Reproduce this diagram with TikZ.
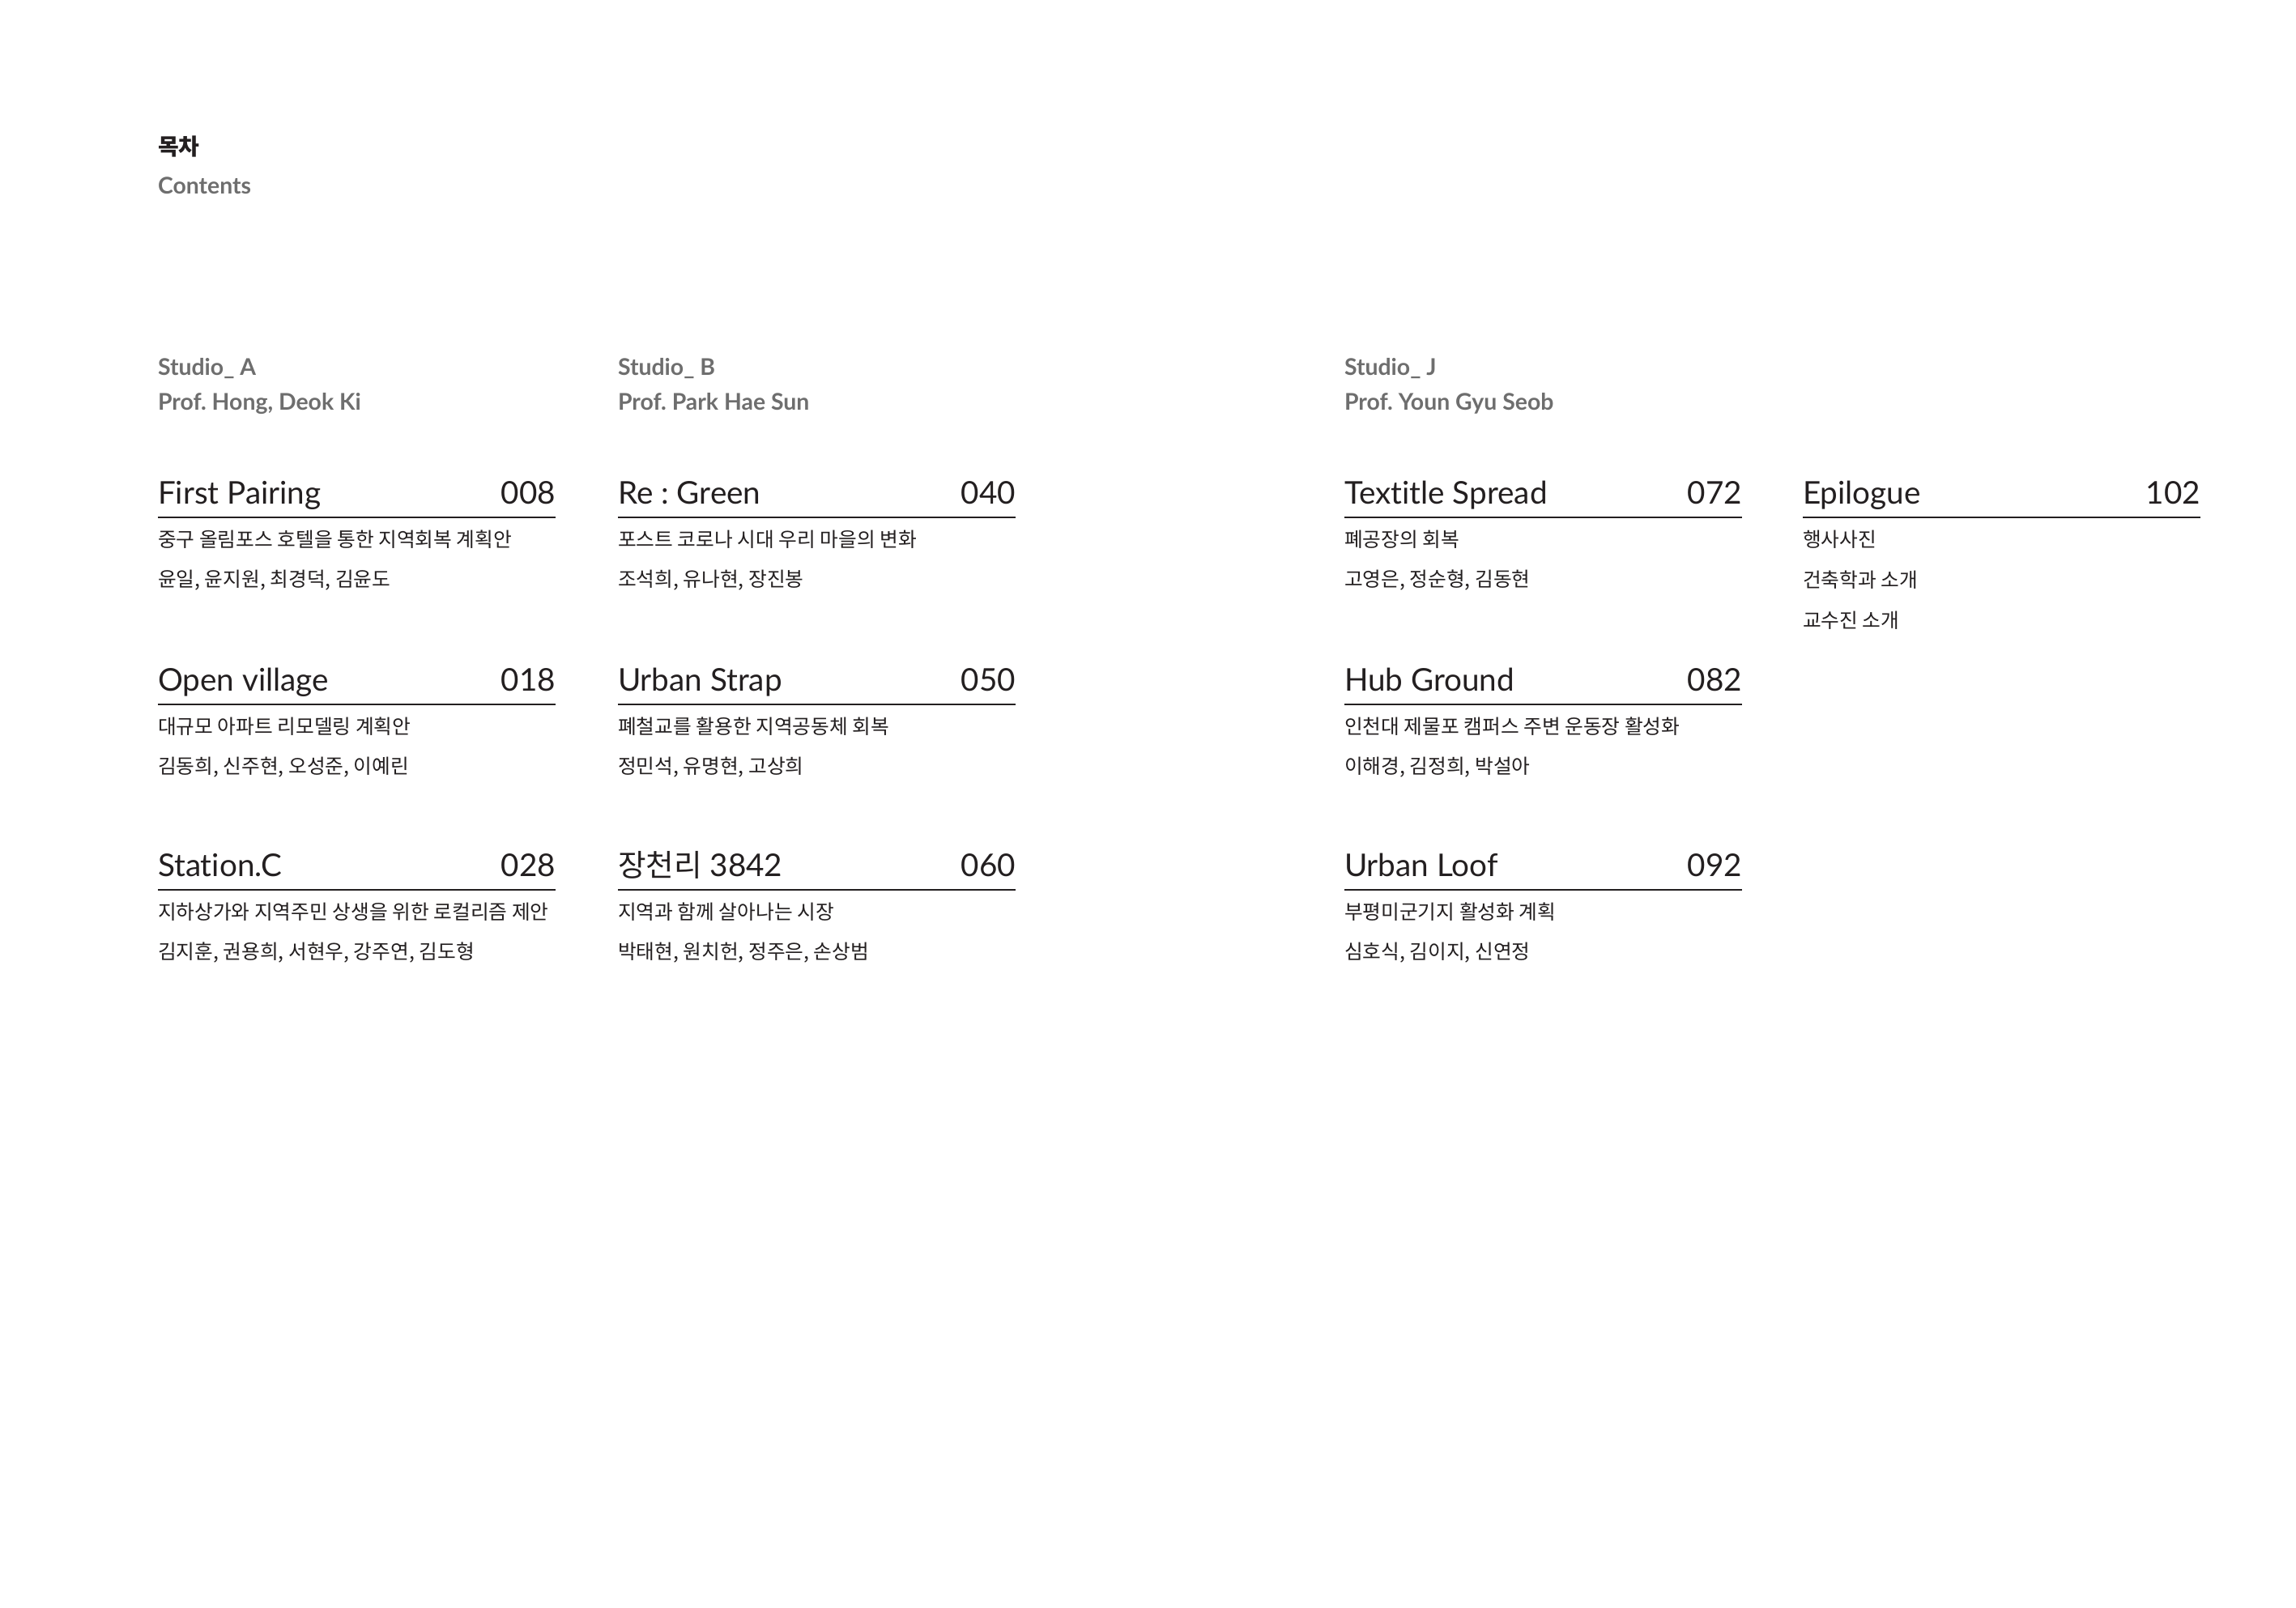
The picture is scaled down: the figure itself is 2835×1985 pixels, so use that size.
\documentclass[tikz,border=0pt]{standalone}
\usepackage{fontspec}
\setmainfont{Lato}[Ligatures=NoCommon]
\newfontfamily\kr{Noto Sans CJK KR}
\definecolor{ink}{RGB}{35,31,32}
\definecolor{labelgray}{RGB}{110,110,110}
\frenchspacing
\tikzset{
  base/.style={inner sep=0pt, outer sep=0pt},
  titletext/.style={base, anchor=base west, text=ink, font=\fontsize{9.66}{11}\selectfont},
  pagenum/.style={base, anchor=base east, text=ink, font=\fontsize{9.66}{11}\selectfont},
  subline/.style={base, anchor=base west, text=ink, font=\kr\fontsize{6.18}{7}\selectfont},
  grlabel/.style={base, anchor=base west, text=labelgray, font=\bfseries\fontsize{7.1}{8}\selectfont},
  rulel/.style={draw=ink, line width=0.5pt},
}
\newcommand{\tocentry}[7]{%
  \node[titletext] (#1-t) at (#2,#3) {#4};
  \node[pagenum] (#1-p) at (#2+491,#3) {#5};
  \coordinate (#1-ra) at (#2,#3+16.5);
  \coordinate (#1-rb) at (#2+491,#3+16.5);
  \draw[rulel] (#1-ra) -- (#1-rb);
  \node[subline] (#1-s) at (#2,#3+53.5) {#6};
  \node[subline] (#1-n) at (#2,#3+102.5) {#7};
}
\begin{document}
\begin{tikzpicture}[x=0.25pt,y=-0.25pt]
\path[use as bounding box, fill=white] (0,0) rectangle (2835,1985);
% header
\node[base, anchor=base west, text=ink, font=\kr\bfseries\fontsize{7}{8}\selectfont] (hd) at (195,191) {목차};
\node[grlabel] (hdc) at (195,239) {Contents};
% studio labels
\node[grlabel] (sa) at (195,463) {Studio\_ A};
\node[grlabel] (pa) at (195,506) {Prof. Hong, Deok Ki};
\node[grlabel] (sb) at (763,463) {Studio\_ B};
\node[grlabel] (pb) at (763,506) {Prof. Park Hae Sun};
\node[grlabel] (sj) at (1660,463) {Studio\_ J};
\node[grlabel] (pj) at (1660,506) {Prof. Youn Gyu Seob};
% column A
\tocentry{a1}{195}{622}{First Pairing}{008}{중구 올림포스 호텔을 통한 지역회복 계획안}{윤일, 윤지원, 최경덕, 김윤도}
\tocentry{a2}{195}{853}{Open village}{018}{대규모 아파트 리모델링 계획안}{김동희, 신주현, 오성준, 이예린}
\tocentry{a3}{195}{1082}{Station.C}{028}{지하상가와 지역주민 상생을 위한 로컬리즘 제안}{김지훈, 권용희, 서현우, 강주연, 김도형}
% column B
\tocentry{b1}{763}{622}{Re : Green}{040}{포스트 코로나 시대 우리 마을의 변화}{조석희, 유나현, 장진봉}
\tocentry{b2}{763}{853}{Urban Strap}{050}{폐철교를 활용한 지역공동체 회복}{정민석, 유명현, 고상희}
\tocentry{b3}{763}{1082}{{\kr\fontsize{9.4}{11}\selectfont 장천리} 3842}{060}{지역과 함께 살아나는 시장}{박태현, 원치헌, 정주은, 손상범}
% column J
\tocentry{j1}{1660}{622}{Textitle Spread}{072}{폐공장의 회복}{고영은, 정순형, 김동현}
\tocentry{j2}{1660}{853}{Hub Ground}{082}{인천대 제물포 캠퍼스 주변 운동장 활성화}{이해경, 김정희, 박설아}
\tocentry{j3}{1660}{1082}{Urban Loof}{092}{부평미군기지 활성화 계획}{심호식, 김이지, 신연정}
% epilogue
\node[titletext] (e-t) at (2226,622) {Epilogue};
\node[pagenum] (e-p) at (2717,622) {102};
\coordinate (e-ra) at (2226,638.5);
\coordinate (e-rb) at (2717,638.5);
\draw[rulel] (e-ra) -- (e-rb);
\node[subline] (e-s1) at (2226,675.5) {행사사진};
\node[subline] (e-s2) at (2226,725.5) {건축학과 소개};
\node[subline] (e-s3) at (2226,775.5) {교수진 소개};
\end{tikzpicture}
\end{document}
